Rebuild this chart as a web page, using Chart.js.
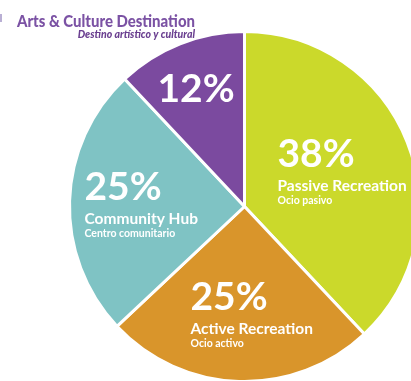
<!DOCTYPE html>
<html>
<head>
<meta charset="utf-8">
<script src="https://cdn.jsdelivr.net/npm/chart.js@4"></script>
<style>
  html, body { margin: 0; padding: 0; background: #fff; overflow: hidden; }
  #wrap { position: absolute; left: 0; top: 0; width: 432px; height: 394px; }
  #mark { position: absolute; left: 0; top: 14px; width: 2px; height: 8px; background: #8a79b8; opacity: 0.6; }
</style>
</head>
<body>
<div id="wrap"><canvas id="pie" width="432" height="394"></canvas></div>
<div id="mark"></div>
<script>
// share of space by use
const categories = ["Passive Recreation", "Active Recreation", "Community Hub", "Arts & Culture Destination"];
const subLabels = ["Ocio pasivo", "Ocio activo", "Centro comunitario", ""];
const shares = [38, 25, 25, 12];
const colors = ["#cbd92b", "#d9952b", "#7fc3c4", "#7b4a9f"];

// where each label block sits, relative to the pie centre
const labelOffsets = [
  { dx: 33, dy: -40 },
  { dx: -54, dy: 103 },
  { dx: -160, dy: -7 },
  { dx: -87, dy: -105 },
];

const sliceLabels = {
  id: "sliceLabels",
  afterDatasetsDraw(chart) {
    const ctx = chart.ctx;
    const arcs = chart.getDatasetMeta(0).data;
    ctx.save();
    ctx.fillStyle = "#ffffff";
    ctx.textAlign = "left";
    ctx.textBaseline = "alphabetic";
    arcs.forEach((arc, i) => {
      const x = arc.x + labelOffsets[i].dx;
      const y = arc.y + labelOffsets[i].dy;
      ctx.font = "bold 39px Lato";
      ctx.fillText(shares[i] + "%", x, y);
      if (i === 3) return; // the small slice only shows its number
      ctx.font = "bold 15.5px Lato";
      ctx.fillText(categories[i], x, y + 24, 131);
      ctx.font = "bold 10.5px Lato";
      ctx.fillText(subLabels[i], x, y + 37);
    });

    // heading for the purple slice, top left
    ctx.fillStyle = "#7b52a4";
    ctx.font = "900 17px Lato";
    ctx.fillText("Arts & Culture Destination", 17, 27, 178);
    ctx.fillStyle = "#6a3f90";
    ctx.textAlign = "right";
    ctx.font = "italic 900 10.5px Lato";
    ctx.fillText("Destino artístico y cultural", 195, 38, 136);
    ctx.restore();
  },
};

new Chart(document.getElementById("pie"), {
  type: "pie",
  data: {
    labels: categories,
    datasets: [{
      data: shares,
      backgroundColor: colors,
      borderColor: "#ffffff",
      borderWidth: 3,
    }],
  },
  options: {
    responsive: false,
    animation: false,
    events: [],
    layout: { padding: { left: 68, top: 30, right: 11, bottom: 11 } },
    plugins: {
      legend: { display: false },
      tooltip: { enabled: false },
    },
  },
  plugins: [sliceLabels],
});
</script>
</body>
</html>
